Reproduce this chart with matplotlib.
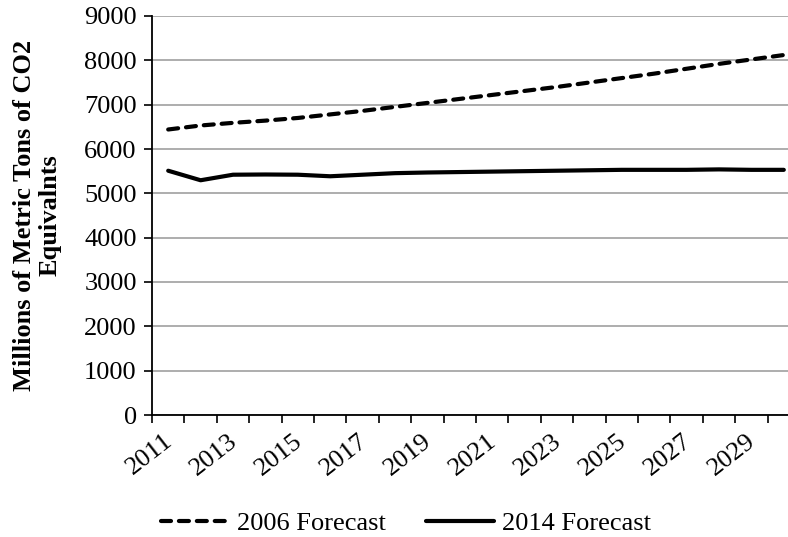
import matplotlib
matplotlib.use("Agg")
import matplotlib.pyplot as plt
import matplotlib.transforms as mtransforms
import numpy as np

plt.rcParams['font.family'] = ['Liberation Serif', 'DejaVu Serif']

years = list(range(2011, 2031))
forecast_2006 = [6440, 6530, 6590, 6640, 6700, 6780, 6860, 6950, 7040, 7130,
                 7220, 7310, 7400, 7500, 7600, 7700, 7810, 7920, 8020, 8120]
forecast_2014 = [5510, 5295, 5420, 5425, 5420, 5385, 5420, 5455, 5470, 5480,
                 5490, 5500, 5510, 5520, 5530, 5530, 5530, 5540, 5530, 5530]
tick_labels = [str(y) for y in years]
ylabel = "Millions of Metric Tons of CO2\nEquivalnts"

FS = 19
W, H = 788, 537
fig = plt.figure(figsize=(W / 100, H / 100), dpi=100)
left, right, top, bottom = 152, 800, 16, 415
ax = fig.add_axes([left / W, 1 - bottom / H, (right - left) / W, (bottom - top) / H])

x = np.arange(len(years))
ax.plot(x, forecast_2006, color='black', lw=3, linestyle=(0, (2.4, 1.9)),
        dash_capstyle='round', solid_capstyle='round', label='2006 Forecast')
ax.plot(x, forecast_2014, color='black', lw=3, solid_capstyle='round',
        label='2014 Forecast')

ax.set_xlim(-0.5, len(years) - 0.5)
ax.set_ylim(0, 9000)
ax.set_yticks(np.arange(0, 9001, 1000))
ax.yaxis.grid(True, color='#a0a0a0', lw=1.2)
ax.set_axisbelow(True)

ax.set_xticks(np.arange(-0.5, len(years), 1.0))
ax.set_xticklabels([])
ax.set_xticks(x[::2], minor=True)
ax.set_xticklabels(tick_labels[::2], minor=True, rotation=38, ha='right',
                   va='top', rotation_mode='anchor', fontsize=FS)
ax.tick_params(axis='x', which='minor', length=0, pad=10)
ax.tick_params(axis='x', which='major', length=6, width=1.2, direction='out')
ax.tick_params(axis='y', length=6, width=1.2, direction='out', labelsize=FS, pad=5)
offset = mtransforms.ScaledTranslation(-0.05, -0.01, fig.dpi_scale_trans)
for lab in ax.get_xticklabels(minor=True):
    lab.set_transform(lab.get_transform() + offset)

for s in ['top', 'right']:
    ax.spines[s].set_visible(False)
for s in ['left', 'bottom']:
    ax.spines[s].set_linewidth(1.3)
    ax.spines[s].set_color('black')

ax.set_ylabel(ylabel, fontsize=FS, fontweight='bold', labelpad=16, linespacing=1.15)

leg = fig.legend(loc='center', bbox_to_anchor=(406 / W, 1 - 523 / H), ncol=2,
                 frameon=False, fontsize=FS, handlelength=2.6, handletextpad=0.3,
                 columnspacing=1.5)

fig.savefig("out.png", dpi=100)
